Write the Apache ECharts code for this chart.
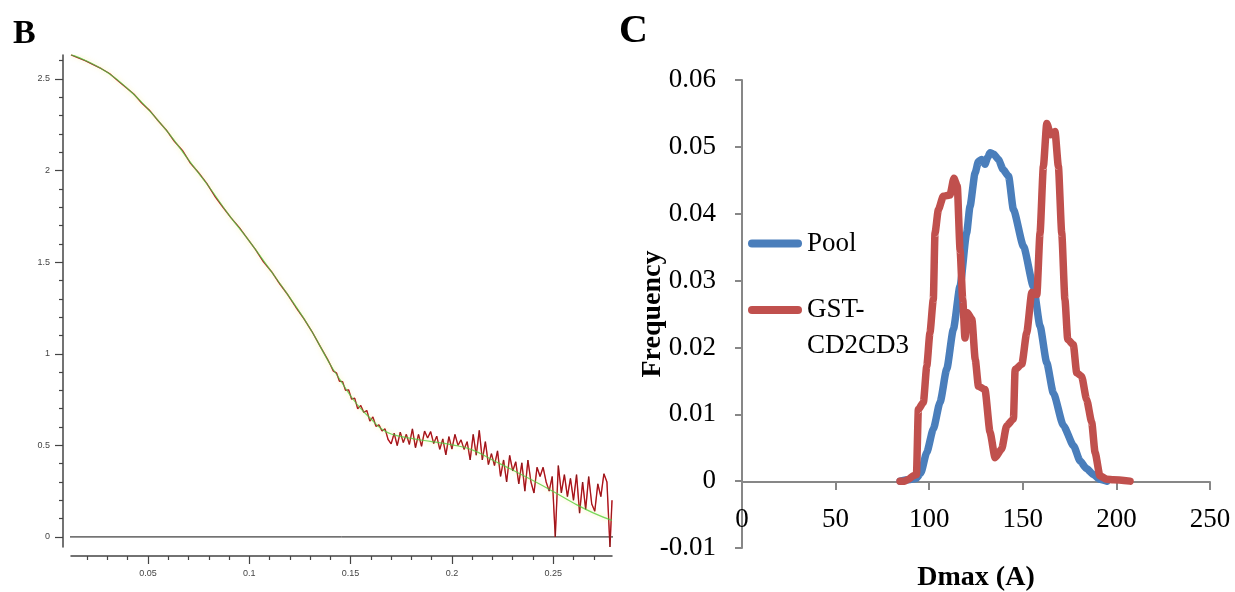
<!DOCTYPE html>
<html><head><meta charset="utf-8">
<script src="https://cdn.jsdelivr.net/npm/echarts@6/dist/echarts.min.js"></script>
<style>html,body{margin:0;padding:0;background:#fff}#c{width:1235px;height:592px}</style>
</head><body><div id="c"></div>
<script>
// ---------- Panel B: SAXS scattering curve (q, I) ----------
const saxsExp = [
[0.0120,2.632],[0.0150,2.618],[0.0190,2.600],[0.0230,2.578],[0.0270,2.556],[0.0310,2.530],[0.0350,2.492],[0.0390,2.455],[0.0430,2.418],[0.0470,2.368],[0.0510,2.326],[0.0550,2.272],[0.0590,2.222],[0.0630,2.160],[0.0670,2.110],[0.0710,2.040],[0.0750,1.988],[0.0790,1.930],[0.0830,1.860],[0.0870,1.800],[0.0910,1.742],[0.0950,1.690],[0.0990,1.630],[0.1030,1.570],[0.1070,1.502],[0.1110,1.448],[0.1150,1.382],[0.1190,1.322],[0.1230,1.254],[0.1270,1.190],[0.1310,1.120],[0.1350,1.040],[0.1385,0.972],
[0.1400,0.940],[0.1415,0.905],[0.1430,0.896],[0.1445,0.850],[0.1460,0.848],[0.1475,0.800],[0.1490,0.803],[0.1505,0.752],[0.1520,0.758],[0.1535,0.700],[0.1550,0.718],[0.1565,0.680],[0.1580,0.690],[0.1595,0.632],[0.1610,0.655],[0.1625,0.604],[0.1640,0.612],[0.1655,0.578],[0.1670,0.590],[0.1685,0.532],[0.1700,0.508],[0.1715,0.566],[0.1730,0.498],[0.1745,0.572],[0.1760,0.515],[0.1775,0.560],[0.1790,0.505],[0.1805,0.590],[0.1820,0.487],[0.1835,0.560],[0.1850,0.495],[0.1865,0.578],[0.1880,0.540],[0.1895,0.575],[0.1910,0.510],[0.1925,0.550],[0.1940,0.478],[0.1955,0.535],[0.1970,0.448],[0.1985,0.548],[0.2000,0.480],[0.2015,0.560],[0.2030,0.500],[0.2045,0.530],[0.2060,0.478],[0.2075,0.520],[0.2090,0.420],[0.2105,0.560],[0.2120,0.446],[0.2135,0.582],[0.2150,0.420],[0.2165,0.520],[0.2180,0.395],[0.2195,0.455],[0.2210,0.390],[0.2225,0.470],[0.2240,0.330],[0.2255,0.420],[0.2270,0.300],[0.2285,0.445],[0.2300,0.360],[0.2315,0.410],[0.2330,0.290],[0.2345,0.405],[0.2360,0.250],[0.2375,0.420],[0.2390,0.300],[0.2405,0.240],[0.2420,0.380],[0.2435,0.330],[0.2450,0.380],[0.2465,0.300],[0.2480,0.250],[0.2495,0.330],[0.2510,0.000],[0.2525,0.390],[0.2540,0.240],[0.2555,0.340],[0.2570,0.220],[0.2585,0.320],[0.2600,0.200],[0.2615,0.340],[0.2630,0.130],[0.2645,0.300],[0.2660,0.150],[0.2675,0.330],[0.2690,0.180],[0.2705,0.140],[0.2720,0.290],[0.2735,0.220],[0.2750,0.345],[0.2765,0.300],[0.2780,-0.055],[0.2790,0.200]
];
const saxsFit = [
[0.012,2.633],[0.02,2.597],[0.03,2.535],[0.04,2.447],[0.05,2.336],[0.06,2.207],[0.07,2.058],[0.08,1.913],[0.09,1.757],[0.10,1.615],[0.11,1.462],[0.12,1.306],[0.13,1.138],[0.14,0.940],[0.145,0.855],[0.15,0.770],[0.155,0.700],[0.16,0.645],[0.165,0.592],[0.17,0.562],[0.18,0.538],[0.19,0.520],[0.20,0.503],[0.21,0.475],[0.22,0.420],[0.23,0.365],[0.24,0.308],[0.25,0.248],[0.26,0.185],[0.27,0.130],[0.279,0.090]
];
const saxsBaseline = [[0.0081,0],[0.2806,0]];
const bMajorX = [0.05,0.1,0.15,0.2,0.25];
const bMinorX = [0.02,0.03,0.04,0.06,0.07,0.08,0.09,0.11,0.12,0.13,0.14,0.16,0.17,0.18,0.19,0.21,0.22,0.23,0.24,0.26,0.27];
const bMajorY = [0,0.5,1,1.5,2,2.5];
const bMinorY = [0.1,0.2,0.3,0.4,0.6,0.7,0.8,0.9,1.1,1.2,1.3,1.4,1.6,1.7,1.8,1.9,2.1,2.2,2.3,2.4,2.6];

// ---------- Panel C: Dmax distributions (Dmax, frequency) ----------
const poolData = [
[84.5,0],[89,0.0002],[93,0.0004],[95.5,0.0012],[98.7,0.0043],[102.2,0.0078],[105.8,0.0118],[109.4,0.0168],[112.9,0.0227],[116.5,0.0292],[120,0.0371],[121.8,0.0411],[124.5,0.0461],[126.3,0.0478],[128,0.0481],[129.8,0.0474],[131.2,0.0484],[132.5,0.0491],[134.5,0.0489],[137,0.0481],[139.5,0.0466],[142.4,0.0456],[145,0.0406],[150.4,0.0351],[155.7,0.0291],[159.2,0.0232],[162.8,0.0177],[166.3,0.0132],[171.7,0.0083],[177.1,0.0053],[180.6,0.0030],[184,0.0019],[187.7,0.0010],[191,0.0003],[195,0]
];
const gstData = [
[84.4,0],[86.8,0],[89,0.0003],[91.5,0.0008],[93.2,0.0010],[94.2,0.0107],[96.9,0.0118],[98.7,0.0172],[100.4,0.0222],[102.2,0.0272],[103.1,0.0371],[104.9,0.0406],[107.5,0.0426],[111.1,0.0428],[113.2,0.0453],[115,0.0441],[116.5,0.0346],[117.9,0.0272],[119.1,0.0214],[120.4,0.0252],[122.8,0.0242],[124.6,0.0182],[126.3,0.0142],[129.8,0.0137],[132.5,0.0073],[135.2,0.0035],[138.7,0.0048],[141.4,0.0083],[145,0.0093],[145.9,0.0167],[149.5,0.0175],[152.1,0.0222],[154.8,0.0282],[157.5,0.0279],[159.2,0.0371],[161,0.0471],[162.8,0.0535],[164.9,0.0518],[167.2,0.0523],[169,0.0471],[170.8,0.0371],[172.5,0.0272],[174,0.0212],[177,0.0204],[178.8,0.0162],[181.4,0.0157],[184.1,0.0122],[186.8,0.0088],[188.6,0.0043],[191.2,0.0008],[194.8,0.0003],[198.4,0.0002],[207.3,0]
];

const serif = "'Liberation Serif','Times New Roman',serif";
const sans = "'Liberation Sans',Arial,sans-serif";
const bAxis = '#444';
const cAxis = '#878787';
const pill = 'path://M4,0H50A4,4,0,0,1,50,8H4A4,4,0,0,1,4,0Z';

const chart = echarts.init(document.getElementById('c'), null, {renderer:'canvas'});
chart.setOption({
  animation:false,
  backgroundColor:'#fff',
  grid:[
    {left:71, top:55, width:541, height:492, containLabel:false, outerBoundsMode:'none'},
    {left:742, top:80, width:468, height:468, containLabel:false, outerBoundsMode:'none'}
  ],
  xAxis:[
    {gridIndex:0, type:'value', min:0.012, max:0.279, position:'bottom', offset:9,
     axisLine:{show:true, onZero:false, lineStyle:{color:bAxis, width:1.5}},
     axisTick:{show:true, customValues:bMajorX, length:8, lineStyle:{color:bAxis, width:1.2}},
     axisLabel:{show:true, customValues:bMajorX, margin:13, fontSize:9, color:'#444', fontFamily:sans},
     splitLine:{show:false}},
    {gridIndex:0, type:'value', min:0.012, max:0.279, position:'bottom', offset:9,
     axisLine:{show:false, onZero:false},
     axisTick:{show:true, customValues:bMinorX, length:4, lineStyle:{color:bAxis, width:1.2}},
     axisLabel:{show:false, customValues:bMinorX},
     splitLine:{show:false}},
    {gridIndex:1, type:'value', min:0, max:250, interval:50, position:'bottom', offset:-66,
     axisLine:{show:true, onZero:false, lineStyle:{color:cAxis, width:2}},
     axisTick:{show:true, length:8, lineStyle:{color:cAxis, width:2}},
     axisLabel:{fontFamily:serif, fontSize:27, color:'#000', margin:24},
     name:'Dmax (A)', nameLocation:'middle', nameGap:82, nameMoveOverlap:false,
     nameTextStyle:{fontFamily:serif, fontSize:28, fontWeight:'bold', color:'#000'},
     splitLine:{show:false}}
  ],
  yAxis:[
    {gridIndex:0, type:'value', min:-0.055, max:2.631, position:'left', offset:8,
     axisLine:{show:true, lineStyle:{color:bAxis, width:1.5}},
     axisTick:{show:true, customValues:bMajorY, length:8, lineStyle:{color:bAxis, width:1.2}},
     axisLabel:{show:true, customValues:bMajorY, margin:13, fontSize:9, color:'#444', fontFamily:sans},
     splitLine:{show:false}},
    {gridIndex:0, type:'value', min:-0.055, max:2.631, position:'left', offset:8,
     axisLine:{show:false},
     axisTick:{show:true, customValues:bMinorY, length:4, lineStyle:{color:bAxis, width:1.2}},
     axisLabel:{show:false, customValues:bMinorY},
     splitLine:{show:false}},
    {gridIndex:1, type:'value', min:-0.01, max:0.06, interval:0.01,
     axisLine:{show:true, lineStyle:{color:cAxis, width:2}},
     axisTick:{show:true, length:7, lineStyle:{color:cAxis, width:2}},
     axisLabel:{fontFamily:serif, fontSize:27, color:'#000', margin:26},
     name:'Frequency', nameLocation:'middle', nameGap:75, nameRotate:90, nameMoveOverlap:false,
     nameTextStyle:{fontFamily:serif, fontSize:28, fontWeight:'bold', color:'#000'},
     splitLine:{show:false}}
  ],
  legend:[
    {data:['Pool'], left:748, top:226, orient:'vertical', padding:0,
     itemWidth:54, itemHeight:8, icon:pill,
     textStyle:{fontFamily:serif, fontSize:27, color:'#000', lineHeight:35}},
    {data:['GST-CD2CD3'], left:748, top:256, orient:'vertical', padding:0,
     itemWidth:54, itemHeight:8, icon:pill,
     formatter:function(){return ' \nGST-\nCD2CD3';},
     textStyle:{fontFamily:serif, fontSize:27, color:'#000', lineHeight:36}}
  ],
  graphic:[
    {type:'text', x:13, y:34, style:{text:'B', fontFamily:serif, fontSize:34, fontWeight:'bold', fill:'#000', verticalAlign:'middle', align:'left'}},
    {type:'text', x:619, y:32, style:{text:'C', fontFamily:serif, fontSize:40, fontWeight:'bold', fill:'#000', verticalAlign:'middle', align:'left'}}
  ],
  series:[
    {name:'baseline', type:'line', xAxisIndex:0, yAxisIndex:0, data:saxsBaseline, clip:false, silent:true,
     symbol:'none', lineStyle:{color:'#111', width:1}},
    {name:'experimental', type:'line', xAxisIndex:0, yAxisIndex:0, data:saxsExp, symbol:'none',
     lineStyle:{color:'#e3101f', width:1.4}},
    {name:'fit', type:'line', xAxisIndex:0, yAxisIndex:0, data:saxsFit, smooth:true, symbol:'none',
     lineStyle:{color:'#78d85a', width:1.2, shadowBlur:5, shadowColor:'rgba(250,235,140,0.8)'}},
    {name:'experimental-core', type:'line', xAxisIndex:0, yAxisIndex:0, data:saxsExp, symbol:'none',
     lineStyle:{color:'#2e2a1e', width:0.7, opacity:0.6}},
    {name:'Pool', type:'line', xAxisIndex:2, yAxisIndex:2, data:poolData, symbol:'none', showSymbol:false,
     smooth:0.2, smoothMonotone:'x', color:'#4a7ebb', itemStyle:{color:'#4a7ebb'},
     lineStyle:{color:'#4a7ebb', width:7.5, cap:'round', join:'round'}},
    {name:'GST-CD2CD3', type:'line', xAxisIndex:2, yAxisIndex:2, data:gstData, symbol:'none', showSymbol:false,
     smooth:0.2, smoothMonotone:'x', color:'#c0504d', itemStyle:{color:'#c0504d'},
     lineStyle:{color:'#c0504d', width:7.5, cap:'round', join:'round'}}
  ]
});
</script>
</body></html>
